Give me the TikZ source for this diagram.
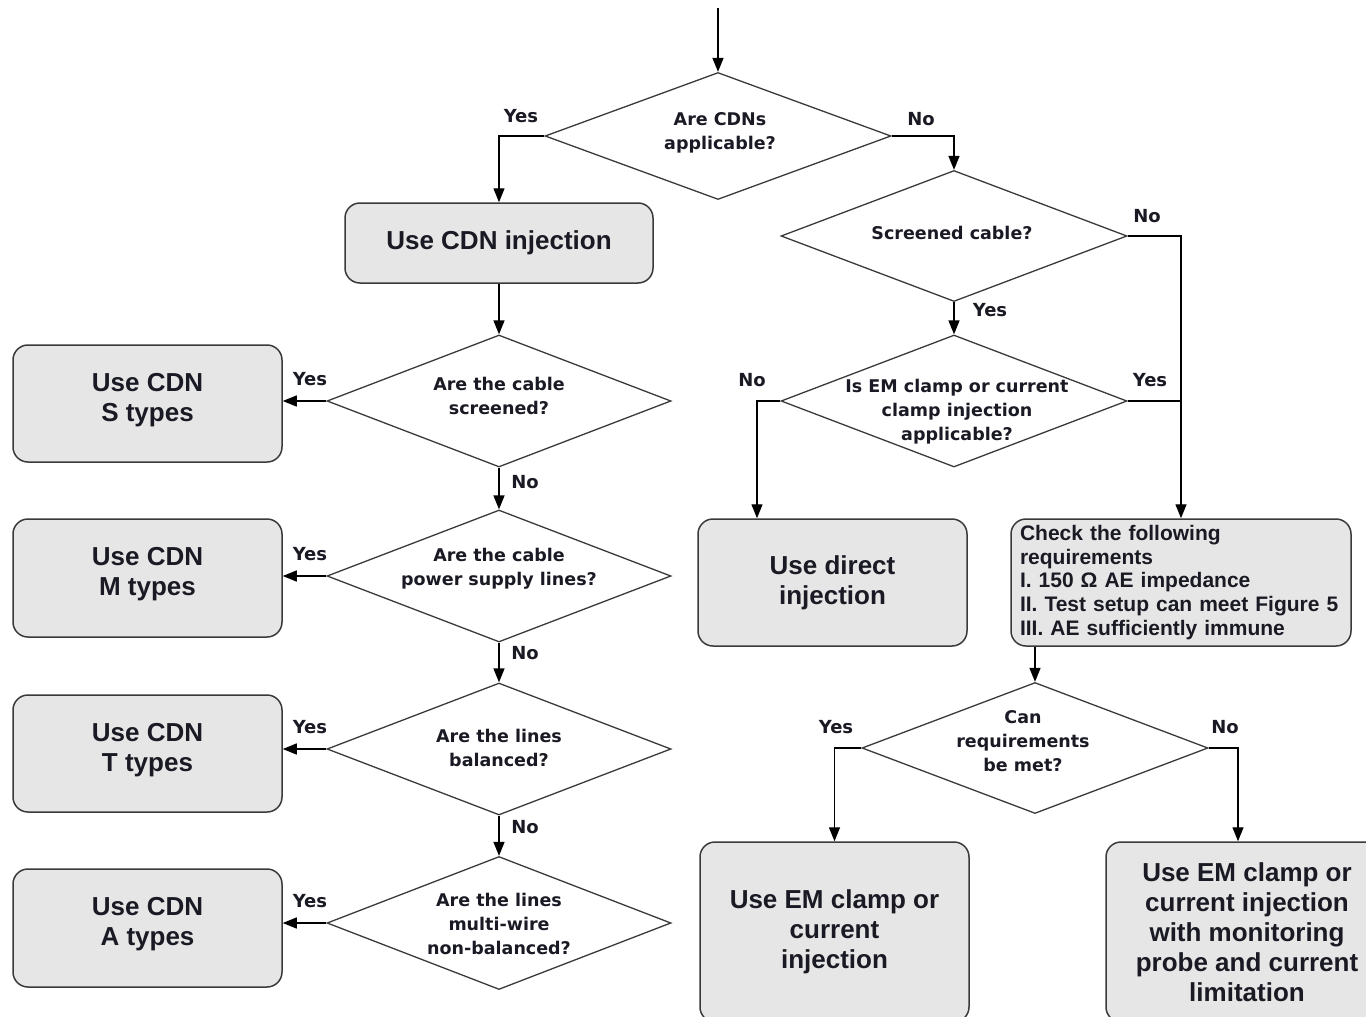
\documentclass[tikz,border=0pt]{standalone}
\usepackage{fontspec}
\setmainfont{Liberation Sans}
\newfontfamily\dvfont{DejaVu Sans}
\usetikzlibrary{shapes.geometric,arrows.meta}
\definecolor{boxfill}{HTML}{E6E6E6}
\definecolor{edge}{HTML}{3A3A3A}
\definecolor{ink}{HTML}{1A1A24}
\newcommand{\lift}{\rule[-13pt]{0pt}{0pt}}
\begin{document}
\begin{tikzpicture}[x=1pt,y=-1pt,
 box/.style={draw=edge, line width=1.5pt, fill=boxfill, rounded corners=15pt,
   font=\fontsize{26}{30}\selectfont\bfseries, text=ink, align=center, inner sep=0pt},
 dec/.style={diamond, draw=edge, line width=1.3pt, inner sep=0pt},
 dtext/.style={font=\dvfont\fontsize{17.5}{24}\selectfont\bfseries, text=ink, align=center, inner sep=0pt},
 lbl/.style={font=\dvfont\fontsize{18}{20}\selectfont\bfseries, text=ink, inner sep=0pt},
 arr/.style={-{Triangle[length=14pt,width=11pt]}, draw=black, line width=1.4pt},
 ln/.style={draw=black, line width=1.4pt}]
\useasboundingbox (0,0) rectangle (1366,1017);
\fill[white] (0,0) rectangle (1366,1017);
\clip (0,0) rectangle (1366,1017);

% decisions
\node[dec, minimum width=346pt, minimum height=127pt] (d1) at (718,136) {};
\node[dtext] (d1t) at (720,133) {Are CDNs\\applicable?};
\node[dec, minimum width=344pt, minimum height=132pt] (d2) at (499,401) {};
\node[dtext] (d2t) at (499,396) {Are the cable\\screened?};
\node[dec, minimum width=344pt, minimum height=132pt] (d3) at (499,576) {};
\node[dtext] (d3t) at (499,569) {Are the cable\\power supply lines?};
\node[dec, minimum width=344pt, minimum height=132pt] (d4) at (499,749) {};
\node[dtext] (d4t) at (499,748) {Are the lines\\balanced?};
\node[dec, minimum width=344pt, minimum height=133pt] (d5) at (499,923) {};
\node[dtext] (d5t) at (499,924) {Are the lines\\multi-wire\\non-balanced?};
\node[dec, minimum width=346pt, minimum height=131pt] (d6) at (954,236) {};
\node[dtext] (d6t) at (952,233) {Screened cable?};
\node[dec, minimum width=346pt, minimum height=132pt] (d7) at (954,401) {};
\node[dtext] (d7t) at (957,412) {Is EM clamp or current\\clamp injection\\applicable?};
\node[dec, minimum width=346pt, minimum height=131pt] (d8) at (1035,748) {};
\node[dtext] (d8t) at (1023,741) {Can\\requirements\\be met?};

% boxes
\node[box, minimum width=308pt, minimum height=80pt] (cdn) at (499,243) {Use CDN injection};
\node[box, minimum width=269pt, minimum height=117pt] (s) at (147.5,403.5) {Use CDN\\S types\lift};
\node[box, minimum width=269pt, minimum height=118pt] (m) at (147.5,578) {Use CDN\\M types\lift};
\node[box, minimum width=269pt, minimum height=117pt] (t) at (147.5,753.5) {Use CDN\\T types\lift};
\node[box, minimum width=269pt, minimum height=118pt] (a) at (147.5,928) {Use CDN\\A types\lift};
\node[box, minimum width=269pt, minimum height=127pt] (direct) at (832.5,582.5) {Use direct\\injection\rule[-5pt]{0pt}{0pt}};
\node[box, minimum width=340pt, minimum height=127pt, text width=322pt, inner xsep=9pt,
      align=left, font=\fontsize{21}{23.8}\selectfont\bfseries] (check) at (1181,582.5)
  {Check the following\\requirements\\I. 150 Ω AE impedance\\II. Test setup can meet Figure 5\\III. AE sufficiently immune};
\node[box, minimum width=269pt, minimum height=180pt] (em) at (834.5,932) {Use EM clamp or\\current\\injection};
\node[box, minimum width=282pt, minimum height=180pt] (big) at (1247,932)
  {Use EM clamp or\\current injection\\with monitoring\\probe and current\\limitation};

% connectors
\coordinate (start) at (718,8);
\draw[arr] (start) -- (d1.north);
\draw[arr] (d1.west) -| (cdn.north);
\draw[arr] (d1.east) -| (d6.north);
\draw[arr] (cdn.south) -- (d2.north);
\draw[arr] (d2.west) -- (d2.west -| s.east);
\draw[arr] (d2.south) -- (d3.north);
\draw[arr] (d3.west) -- (d3.west -| m.east);
\draw[arr] (d3.south) -- (d4.north);
\draw[arr] (d4.west) -- (d4.west -| t.east);
\draw[arr] (d4.south) -- (d5.north);
\draw[arr] (d5.west) -- (d5.west -| a.east);
\draw[arr] (d6.east) -| (check.north);
\draw[arr] (d6.south) -- (d7.north);
\coordinate (join) at (d7.east -| check.north);
\draw[ln] (d7.east) -- (join);
\draw[arr] (d7.west) -| ([xshift=-75.5pt]direct.north);
\draw[arr] (check.south -| d8.north) -- (d8.north);
\draw[arr] (d8.west) -| (em.north);
\draw[arr] (d8.east) -| ([xshift=-9pt]big.north);

% labels
\node[lbl] at (521,116) {Yes};
\node[lbl] at (921,119) {No};
\node[lbl] at (1147,216) {No};
\node[lbl] at (990,310) {Yes};
\node[lbl] at (752,380) {No};
\node[lbl] at (1150,380) {Yes};
\node[lbl] at (310,379) {Yes};
\node[lbl] at (525,482) {No};
\node[lbl] at (310,554) {Yes};
\node[lbl] at (525,653) {No};
\node[lbl] at (310,727) {Yes};
\node[lbl] at (525,827) {No};
\node[lbl] at (310,901) {Yes};
\node[lbl] at (836,727) {Yes};
\node[lbl] at (1225,727) {No};
\end{tikzpicture}
\end{document}
